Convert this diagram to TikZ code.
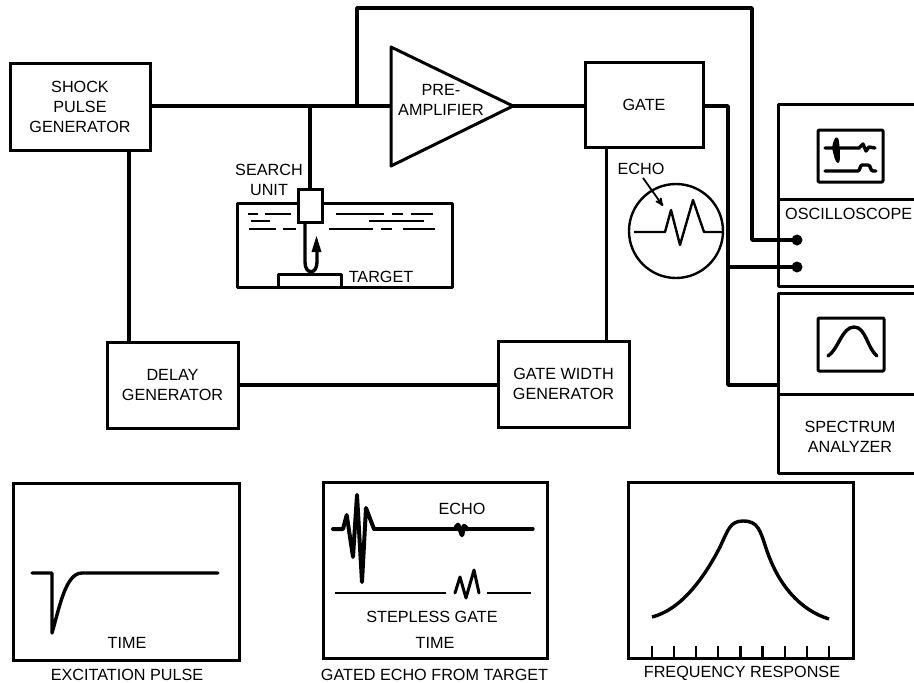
\documentclass[tikz,border=0pt]{standalone}
\usepackage{fontspec}
\setmainfont{Liberation Sans}
\usetikzlibrary{calc}
\usetikzlibrary{arrows}
\tikzset{
 block/.style={draw=black, line width=3pt, rectangle, align=center, inner sep=0pt},
 wire/.style={draw=black, line width=3.4pt, line join=round},
 outline/.style={draw=black, line width=3pt, line join=round},
 trace/.style={draw=black, line width=3.4pt, line join=round, line cap=round},
 water/.style={draw=black, line width=1.8pt},
 lbl/.style={align=center, inner sep=0pt}
}

\begin{document}
\begin{tikzpicture} [x=1pt,y=-1pt,every node/.append style={font=\fontsize{16.2}{20}\selectfont}]
\useasboundingbox (0,0) rectangle (914,683);

% blocks
\node[block, minimum width=140pt, minimum height=87pt] (shock) at (80,106.5) {SHOCK\\PULSE\\GENERATOR};
\node[block, minimum width=118pt, minimum height=85pt] (gate) at (644,105) {GATE};
\node[block, minimum width=131pt, minimum height=86pt] (delay) at (172.5,385) {DELAY\\GENERATOR};
\node[block, minimum width=131pt, minimum height=86pt] (width) at (563.5,384) {GATE WIDTH\\GENERATOR};

% amplifier
\coordinate (ampin) at (391,106);
\coordinate (ampout) at (513,106);
\draw[outline] (391,47) -- (ampout) -- (391,166) -- cycle;
\node[lbl] (amptext) at (441,100) {PRE-\\AMPLIFIER};

% search unit and tank
\coordinate (tap) at (310,106);
\coordinate (split) at (357,106);
\draw[outline] (237,203) rectangle (452,287);
\node[block, fill=white, minimum width=24pt, minimum height=33pt] (unit) at (310,206) {};
\node[lbl] (unittext) at (269,180) {SEARCH\\UNIT};
\foreach \xa/\xb/\yy in {248/258/214,265/291/214,336/384/214,392/403/214,411/433/214,251/270/221,369/424/221,249/276/229,283/296/229,329/373/229,381/392/229,403/435/229} {
 \draw[water] (\xa,\yy) -- (\xb,\yy);
}
\draw[outline] (278,287) -- (278,274) -- (341,274) -- (341,287);
\node[lbl] (targettext) at (381,277) {TARGET};
\draw[wire] (305,222) -- (305,262) .. controls (305,275) and (317,275) .. (317,262) -- (317,250);
\fill (311.5,252) -- (316.5,236) -- (321.5,252) -- cycle;

% wires
\draw[wire] (shock.east |- ampin) -- (ampin);
\draw[wire] (ampout) -- (gate.west |- ampout);
\draw[wire] (tap) -- (unit.north);
\draw[wire] (split) -- (357,8) -- (752,8) coordinate (corner) -- (752,240) -- (797,240) coordinate (dota);
\draw[wire] (gate.east |- ampin) -- (728,106) -- (728,385) -- (778,385) coordinate (specin);
\draw[wire] (728,267) -- (797,267) coordinate (dotb);
\draw[wire] (shock.south -| 129,0) -- (delay.north -| 129,0);
\draw[wire] (606.5,147) -- (width.north -| 606.5,0);
\draw[wire] (delay.east |- 0,385) -- (width.west |- 0,385);
\fill (dota) circle (5.5pt);
\fill (dotb) circle (5.5pt);

% oscilloscope
\draw[outline] (914,104) -- (778,104) -- (778,286) -- (914,286);
\draw[outline] (778,199) -- (914,199);
\draw[outline, rounded corners=1pt] (818,130) rectangle (883,182);
\node[lbl, anchor=west] (scopetext) at (785,214) {OSCILLOSCOPE};
\draw[trace] (825,148) -- (859,148) -- (863,144) -- (866,151) -- (869,147) -- (875,148);
\fill (832,148) .. controls (834,136) and (838,134) .. (839,142) .. controls (840,150) and (841,163) .. (838,163) .. controls (835,163) and (834,155) .. cycle;
\draw[trace] (825,171) -- (858,171) .. controls (860,171) and (860,165) .. (862,165) -- (868,165) .. controls (871,165) and (870,171) .. (873,171) -- (876,171);

% spectrum analyzer
\draw[outline] (914,293) -- (778,293) -- (778,473) -- (914,473);
\draw[outline] (778,394) -- (914,394);
\draw[outline, rounded corners=1pt] (818,318) rectangle (884,371);
\draw[trace] (828,356) .. controls (838,350) and (842,327) .. (854,327) .. controls (866,327) and (867,348) .. (877,356);
\node[lbl] (spectext) at (850,437) {SPECTRUM\\ANALYZER};

% echo display
\node[draw=black, line width=2.4pt, circle, minimum size=94pt, inner sep=0pt] (scope) at (676,231) {};
\node[lbl] (echotext) at (641,169) {ECHO};
\draw[line width=1.8pt, ->, >=stealth'] (echotext.south) ++(2,3) -- (663,206);
\draw[line width=2.4pt, line join=round] (634,232) -- (665,232) -- (671,210) -- (680,245) -- (693,200) -- (704,232) -- (722,232);

% excitation pulse
\node[block, minimum width=226pt, minimum height=177pt] (excite) at (126,571.5) {};
\draw[trace] (32,573) -- (52,573) -- (52,633) .. controls (60,605) and (66,573) .. (82,573) -- (218,573);
\node[lbl] (timea) at (127,643) {TIME};
\node[lbl] (excitetext) at (127,675) {EXCITATION PULSE};

% gated echo
\node[block, minimum width=224pt, minimum height=176pt] (gated) at (435,570) {};
\draw[trace, line width=4pt] (333,529) -- (343,529) -- (346.7,515) -- (353,557) -- (357,495) -- (362,582) -- (366,508) -- (374,529);
\draw[trace] (374,529) -- (533,529);
\draw[trace, line width=4.6pt] (456,527) -- (458,525) -- (460,529) -- (462,535) -- (464,526) -- (467,529);
\draw[line width=2.8pt] (335,593) -- (446,593);
\draw[line width=2.8pt] (487,593) -- (531,593);
\draw[trace, line width=3pt] (455,593) -- (460,577) -- (466,598) -- (474,570) -- (479,593);
\node[lbl] (echotwo) at (462,509) {ECHO};
\node[lbl] (stepless) at (432,617) {STEPLESS GATE};
\node[lbl] (timeb) at (435,643) {TIME};
\node[lbl] (gatedtext) at (434.5,675) {GATED ECHO FROM TARGET};

% frequency response
\node[block, minimum width=225pt, minimum height=176pt] (freq) at (741,570) {};
\draw[trace, line cap=butt] (652,617) .. controls (680,610) and (703,580) .. (720,547) .. controls (728,530) and (730,521) .. (743,521) .. controls (758,521) and (760,530) .. (766,548) .. controls (778,585) and (800,610) .. (829,619);
\foreach \x in {0,1,...,8} {
 \draw[line width=2.2pt] ({652+22.1*\x},646) -- ++(0,12);
}
\node[lbl] (freqtext) at (742,673) {FREQUENCY RESPONSE};
\end{tikzpicture}
\end{document}
